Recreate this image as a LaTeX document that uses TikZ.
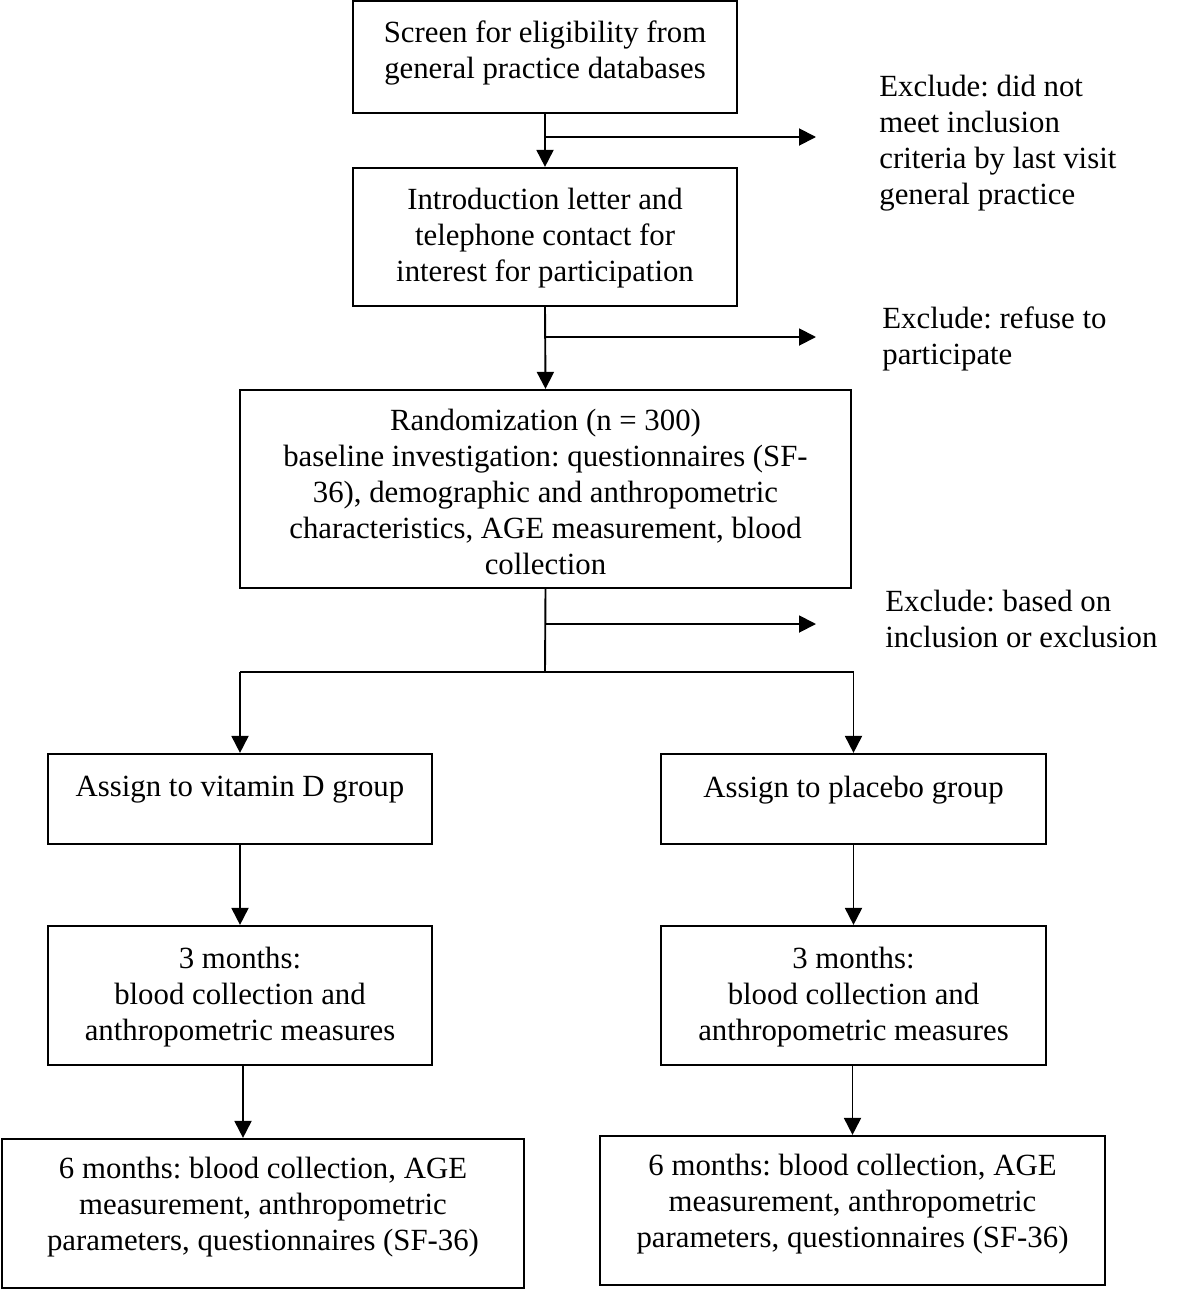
\documentclass[tikz,border=0pt]{standalone}
\usepackage{fontspec}
\setmainfont{Liberation Serif}
\usetikzlibrary{arrows.meta}
\frenchspacing
\begin{document}
\begin{tikzpicture}[x=0.5pt,y=-0.5pt,
  every node/.style={font=\fontsize{15.4}{18}\selectfont},
  box/.style={draw,line width=1.1pt,rectangle,inner sep=0pt},
  txt/.style={align=center,inner sep=0pt},
  arr/.style={line width=0.95pt,-{Triangle[length=8.5pt,width=8.5pt]}},
  ln/.style={line width=0.95pt},
  excl/.style={anchor=base west,align=left,inner sep=0pt}]
\useasboundingbox (0,0) rectangle (1200,1290);
% boxes
\node[box,minimum width=192pt,minimum height=56pt] (b1) at (545,57) {};
\node[txt] (t1) at (545,53) {Screen for eligibility from\\general practice databases};
\node[box,minimum width=192pt,minimum height=69pt] (b2) at (545,237) {};
\node[txt] (t2) at (545,238) {Introduction letter and\\telephone contact for\\interest for participation};
\node[box,minimum width=305.5pt,minimum height=99pt] (b3) at (545.5,489) {};
\node[txt] (t3) at (545.5,492) {Randomization (n = 300)\\baseline investigation: questionnaires (SF-\\36), demographic and anthropometric\\characteristics, AGE measurement, blood\\collection};
\node[box,minimum width=192pt,minimum height=45pt] (b4) at (240,799) {};
\node[txt] (t4) at (240,790) {Assign to vitamin D group};
\node[box,minimum width=192.5pt,minimum height=45pt] (b5) at (853.5,799) {};
\node[txt] (t5) at (853.5,790) {Assign to placebo group};
\node[box,minimum width=192pt,minimum height=69.5pt] (b6) at (240,995.5) {};
\node[txt] (t6) at (240,997) {3 months:\\blood collection and\\anthropometric measures};
\node[box,minimum width=192.5pt,minimum height=69.5pt] (b7) at (853.5,995.5) {};
\node[txt] (t7) at (853.5,997) {3 months:\\blood collection and\\anthropometric measures};
\node[box,minimum width=261pt,minimum height=74.5pt] (b8) at (263,1213.5) {};
\node[txt] (t8) at (263,1207) {6 months: blood collection, AGE\\measurement, anthropometric\\parameters, questionnaires (SF-36)};
\node[box,minimum width=252.5pt,minimum height=74.5pt] (b9) at (852.5,1210.5) {};
\node[txt] (t9) at (852.5,1204) {6 months: blood collection, AGE\\measurement, anthropometric\\parameters, questionnaires (SF-36)};
% exclusion texts (anchored at the baseline of the last line)
\node[excl] (x1) at (879,204) {Exclude: did not\\meet inclusion\\criteria by last visit\\general practice};
\node[excl] (x2) at (882,364) {Exclude: refuse to\\participate};
\node[excl] (x3) at (885,647) {Exclude: based on\\inclusion or exclusion};
% junctions
\coordinate (j1) at (545,137);
\coordinate (e1) at (816,137);
\coordinate (j2) at (545,337);
\coordinate (e2) at (816,337);
\coordinate (j3) at (545,624);
\coordinate (e3) at (816,624);
\coordinate (s) at (545,672);
\coordinate (sl) at (240,672);
\coordinate (sr) at (853.5,672);
% connectors
\draw[arr] (b1.south) -- (b2.north);
\draw[arr] (j1) -- (e1);
\draw[arr] (b2.south) -- (b3.north);
\draw[arr] (j2) -- (e2);
\draw[ln] (b3.south) -- (s);
\draw[arr] (j3) -- (e3);
\draw[ln] (sl) -- (sr);
\draw[arr] (sl) -- (b4.north);
\draw[arr] (sr) -- (b5.north);
\draw[arr] (b4.south) -- (b6.north);
\draw[arr] (b5.south) -- (b7.north);
\draw[arr] ([xshift=1.5pt]b6.south) -- ([xshift=1.5pt]b6.south |- b8.north);
\draw[arr] ([xshift=-0.5pt]b7.south) -- ([xshift=-0.5pt]b7.south |- b9.north);
\end{tikzpicture}
\end{document}
